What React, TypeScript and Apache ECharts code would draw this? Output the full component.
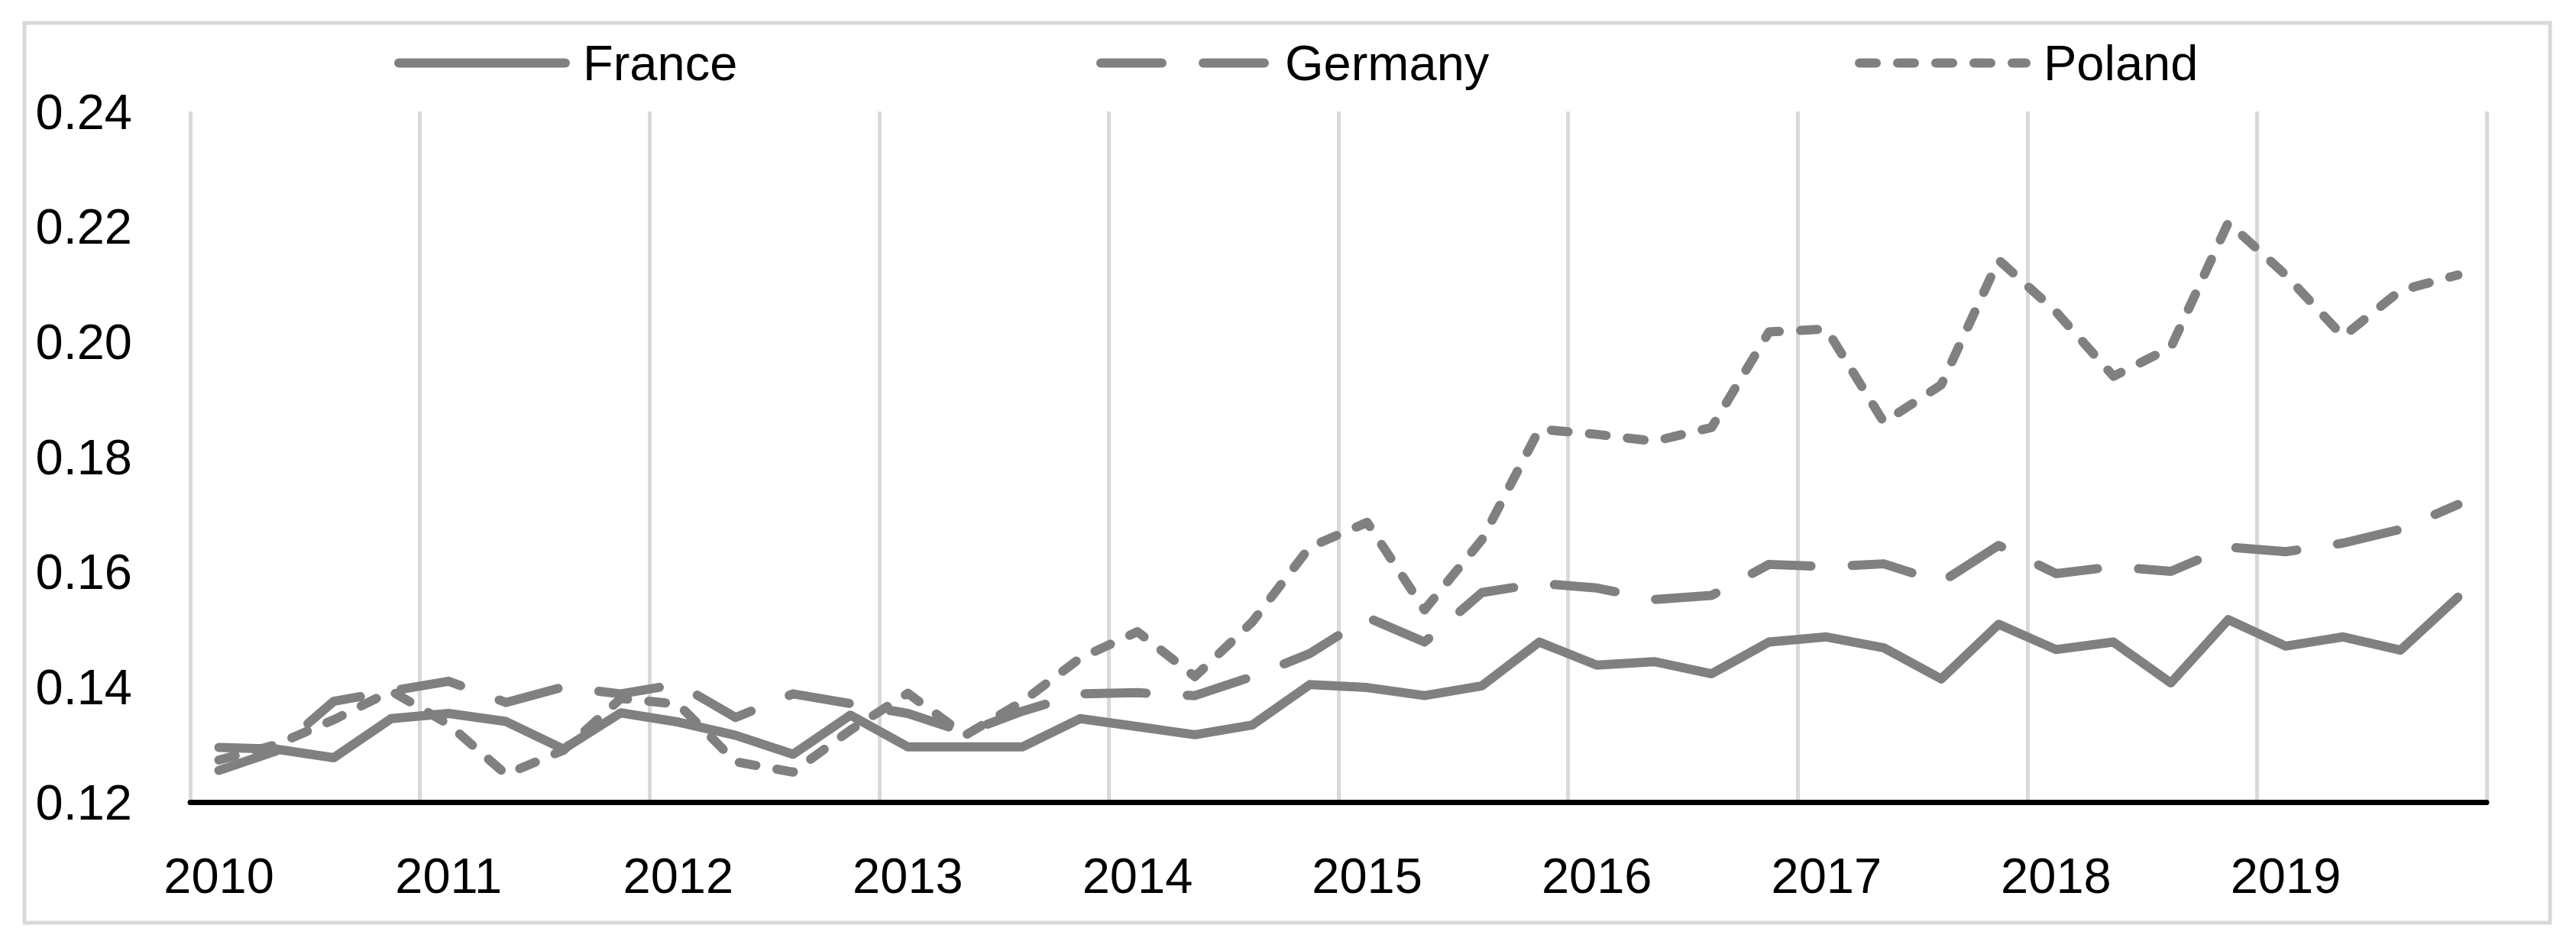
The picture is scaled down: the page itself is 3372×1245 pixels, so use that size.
import React, { useEffect, useRef } from "react";
import * as echarts from "echarts";

// ---- data ----
const YEARS = ["2010", "2011", "2012", "2013", "2014", "2015", "2016", "2017", "2018", "2019"];
const QUARTERS = ["Q1", "Q2", "Q3", "Q4"];
const CATEGORIES = YEARS.flatMap((y) => QUARTERS.map((q) => `${y} ${q}`));
const SERIES_NAMES = ["France", "Germany", "Poland"];

const FRANCE = [
  0.1295, 0.1292, 0.1277, 0.1345,
  0.1354, 0.134, 0.1292, 0.1355,
  0.1339, 0.1316, 0.1283, 0.1351,
  0.1296, 0.1296, 0.1296, 0.1345,
  0.1331, 0.1317, 0.1334, 0.1404,
  0.1399, 0.1385, 0.1402, 0.1478,
  0.1438, 0.1444, 0.1423, 0.1478,
  0.1487, 0.1468, 0.1414, 0.1509,
  0.1465, 0.1478, 0.1407, 0.1517,
  0.1471, 0.1487, 0.1464, 0.1556,
];
const GERMANY = [
  0.1255, 0.1289, 0.1375, 0.1393,
  0.141, 0.1373, 0.14, 0.1388,
  0.1405, 0.1347, 0.1388, 0.1371,
  0.1354, 0.1321, 0.1358, 0.1388,
  0.139, 0.1385, 0.1418, 0.1458,
  0.1521, 0.1478, 0.1564, 0.158,
  0.1572, 0.1552, 0.1559, 0.1613,
  0.1609, 0.1614, 0.1582, 0.1646,
  0.1597, 0.1609, 0.1601, 0.1643,
  0.1635, 0.165, 0.1674, 0.1717,
];
const POLAND = [
  0.1273, 0.13, 0.1343, 0.1393,
  0.1335, 0.1248, 0.129, 0.138,
  0.137, 0.127, 0.1252, 0.1325,
  0.1389, 0.1316, 0.1375, 0.145,
  0.1496, 0.1418, 0.1513, 0.1643,
  0.1686, 0.1534, 0.1656, 0.1848,
  0.1839, 0.1827, 0.1851, 0.2017,
  0.2022, 0.186, 0.1925, 0.2142,
  0.2052, 0.194, 0.199, 0.2207,
  0.2116, 0.2009, 0.2089, 0.2116,
];
const Y_MIN = 0.12;
const Y_MAX = 0.24;
const Y_STEP = 0.02;

// ---- styles ----
const FONT = "'Liberation Sans', Arial, sans-serif";
const LINE_GRAY = "#808080";
const GRID_GRAY = "#d9d9d9";
const DASHES: (string | number[])[] = ["solid", [80, 54], [22, 28]];
const LEGEND_X = [516, 1435, 2428];

export default function App() {
  const ref = useRef<HTMLDivElement>(null);

  useEffect(() => {
    if (!ref.current) return;
    const chart = echarts.init(ref.current, undefined, { renderer: "svg" });
    const dataSets = [FRANCE, GERMANY, POLAND];

    const option: any = {
      animation: false,
      backgroundColor: "#ffffff",
      textStyle: { fontFamily: FONT },
      grid: { left: 249, top: 146, width: 3006, height: 904, containLabel: false },
      xAxis: {
        type: "category",
        data: CATEGORIES,
        boundaryGap: true,
        axisLine: { show: true, lineStyle: { color: "#000000", width: 7 } },
        axisTick: { show: false, interval: 3 },
        axisLabel: {
          interval: 3,
          formatter: (v: string) => v.slice(0, 4),
          fontSize: 65,
          color: "#000000",
          fontFamily: FONT,
          margin: 64,
        },
        splitLine: { show: true, interval: 3, lineStyle: { color: GRID_GRAY, width: 5 } },
      },
      yAxis: {
        type: "value",
        min: Y_MIN,
        max: Y_MAX,
        interval: Y_STEP,
        axisLine: { show: false },
        axisTick: { show: false },
        splitLine: { show: false },
        axisLabel: {
          formatter: (v: number) => v.toFixed(2),
          fontSize: 65,
          color: "#000000",
          fontFamily: FONT,
          margin: 76,
        },
      },
      legend: SERIES_NAMES.map((name, i) => ({
        data: [name],
        left: LEGEND_X[i],
        top: 50,
        padding: 0,
        itemWidth: 218,
        itemHeight: 14,
        selectedMode: false,
        itemStyle: { opacity: 0 },
        textStyle: { fontSize: 65, color: "#000000", fontFamily: FONT, padding: [0, 0, 0, 18] },
        lineStyle: { width: 12 },
      })),
      graphic: [
        {
          type: "rect",
          shape: { x: 32, y: 30, width: 3306, height: 1178 },
          style: { fill: "none", stroke: GRID_GRAY, lineWidth: 5 },
          silent: true,
          z: -1,
        },
      ],
      series: SERIES_NAMES.map((name, i) => ({
        name,
        type: "line",
        data: dataSets[i],
        symbol: "none",
        smooth: false,
        color: LINE_GRAY,
        lineStyle: { color: LINE_GRAY, width: 12, type: DASHES[i], cap: "round", join: "round" },
        z: 2 + i,
      })),
    };

    chart.setOption(option);
    return () => chart.dispose();
  }, []);

  return (
    <div
      ref={ref}
      style={{ position: "absolute", left: 0, top: 0, width: 3372, height: 1245, background: "#fff" }}
    />
  );
}
